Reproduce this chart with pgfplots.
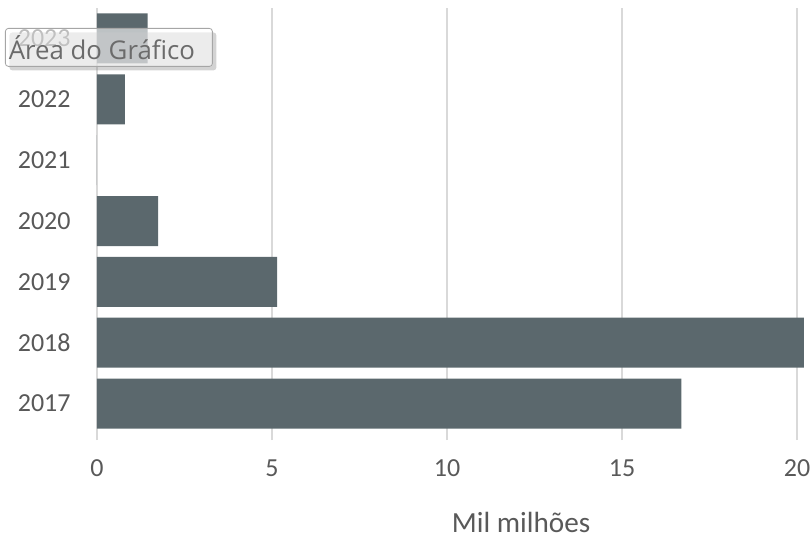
\documentclass[border=0pt]{standalone}
\usepackage{pgfplots}
\pgfplotsset{compat=1.18}
\usepackage{fontspec}
\setmainfont{Carlito}
\newfontfamily\tipfont{Open Sans}
\usetikzlibrary{shadows}

\definecolor{barcol}{HTML}{5B686D}
\definecolor{txtcol}{HTML}{595959}
\definecolor{gridcol}{HTML}{D9D9D9}

\begin{document}
\begin{tikzpicture}
\begin{axis}[
  scale only axis,
  width=357pt, height=213pt,
  xbar,
  xmin=0, xmax=20.4,
  ymin=-0.5, ymax=6.5,
  bar width=25pt,
  xtick={0,5,10,15,20},
  ytick={0,1,2,3,4,5,6},
  yticklabels={2017,2018,2019,2020,2021,2022,2023},
  xmajorgrids,
  grid style={gridcol, line width=0.8pt},
  axis line style={draw=none},
  xtick pos=bottom,
  tick align=outside,
  major tick length=3pt,
  xtick style={gridcol, line width=0.8pt},
  ytick style={draw=none},
  tick label style={font=\fontsize{13}{15}\selectfont, text=txtcol},
  /pgf/number format/assume math mode=true,
  xticklabel style={anchor=center, yshift=-14pt},
  yticklabel style={anchor=east, inner sep=0pt, xshift=-10pt},
  xlabel={Mil milhões},
  xlabel style={font=\fontsize{14.6}{16}\selectfont, text=txtcol,
    at={(axis description cs:0.594,0)}, anchor=center, yshift=-44pt},
]
% 2021 has no value, so its bar has zero length and no outline
\addplot[fill=barcol, draw=none]
  coordinates {(16.7,0) (20.2,1) (5.15,2) (1.75,3) (0,4) (0.8,5) (1.45,6)};
\end{axis}
% chart-area tooltip
\node[draw=black!35, fill=white, fill opacity=0.6, text opacity=1,
      rounded corners=1.5pt, inner sep=0pt,
      minimum width=103.5pt, minimum height=19pt, anchor=north west,
      drop shadow={shadow xshift=2pt, shadow yshift=-2pt, opacity=0.35},
      text=black!58, font=\tipfont\fontsize{12.9}{14}\selectfont]
  at (-46pt,203pt) {\hspace*{-5pt}Área do Gráfico\hspace*{2pt}};
\pgfresetboundingbox
\useasboundingbox (-48.5pt,-51.5pt) rectangle (357pt,217pt);
\end{tikzpicture}
\end{document}
